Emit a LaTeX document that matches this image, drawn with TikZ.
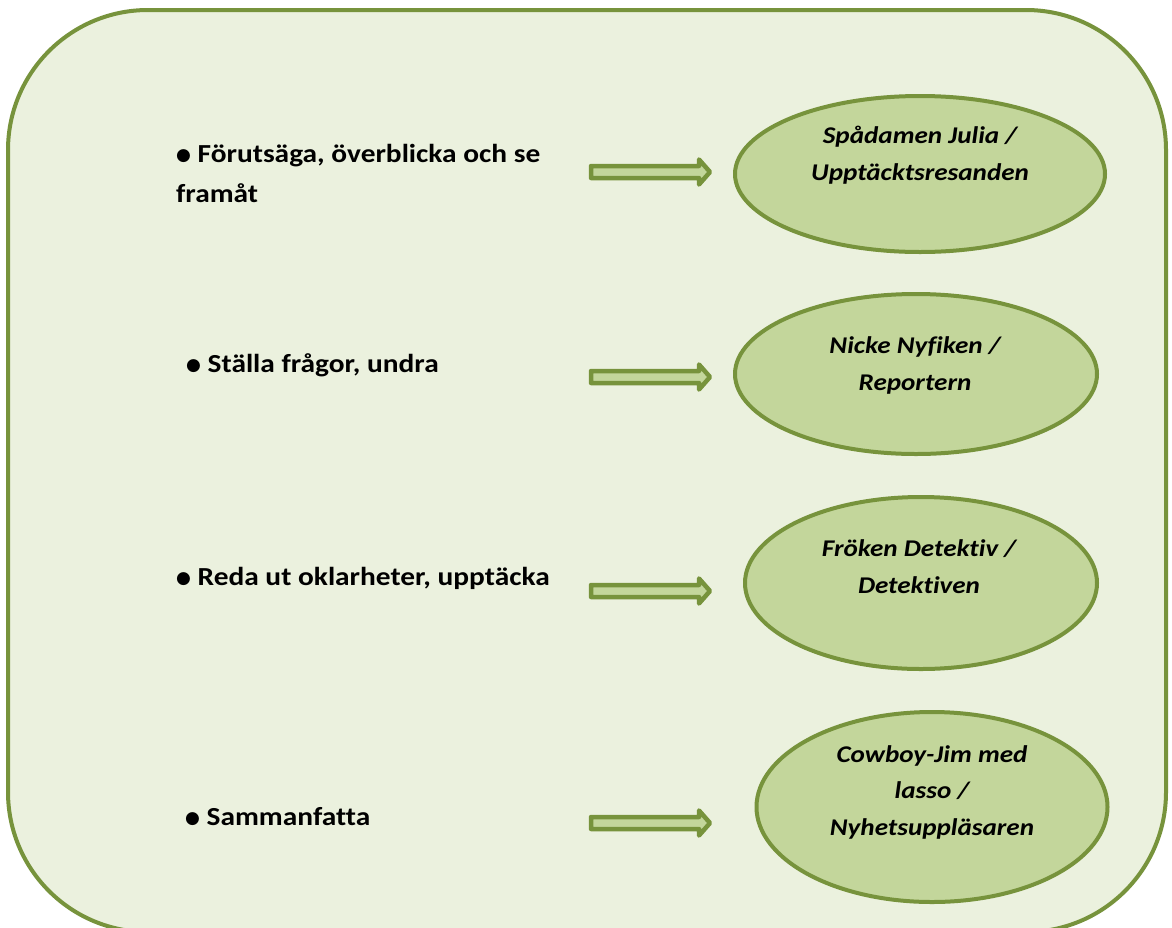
\documentclass[tikz,border=0pt]{standalone}
\usepackage{fontspec}
\setmainfont{Carlito}[FakeStretch=1.13, Ligatures=NoCommon]
\newfontfamily\dejavu{DejaVu Sans}
\usetikzlibrary{shapes.geometric}
\definecolor{bgfill}{HTML}{EBF1DE}
\definecolor{efill}{HTML}{C3D69B}
\definecolor{gline}{HTML}{77933C}
\newcommand\bul{\raisebox{1.5pt}{\dejavu\fontsize{17}{17}\selectfont ●}}
\tikzset{
  frame/.style={draw=gline, fill=bgfill, line width=4pt, rounded corners=140pt},
  oval/.style={ellipse, draw=gline, fill=efill, line width=4pt, inner sep=0pt},
  lefttext/.style={anchor=base west, font=\bfseries\fontsize{26}{40}\selectfont, align=left, inner sep=0pt},
  ovaltext/.style={anchor=base, font=\bfseries\itshape\fontsize{24}{36.5}\selectfont, align=center, inner sep=0pt},
  blockarrow/.style={draw=gline, fill=efill, line width=4.5pt, line join=round}
}
\newcommand\blkarrow[2]{%
  \coordinate (#1) at (591,#2);
  \draw[blockarrow] (#1) ++(0,-6) -- ++(108,0) -- ++(0,-6.5) -- ++(11,12.5)
    -- ++(-11,12.5) -- ++(0,-6.5) -- ++(-108,0) -- cycle;
}
\begin{document}
\begin{tikzpicture}[x=1pt,y=-1pt]
\useasboundingbox (0,0) rectangle (1172,927);
\clip (0,0) rectangle (1172,927);
\fill[white] (0,0) rectangle (1172,927);
\draw[frame] (8,10) rectangle (1166,932);

% left texts (base = baseline of last line)
\node[lefttext] (t1) at (176,202) {\bul\ Förutsäga, överblicka och se\\framåt};
\node[lefttext] (t2) at (186,372) {\bul\ Ställa frågor, undra};
\node[lefttext] (t3) at (176,585) {\bul\ Reda ut oklarheter, upptäcka};
\node[lefttext] (t4) at (185,825) {\bul\ Sammanfatta};

% ellipses
\node[oval, minimum width=370pt, minimum height=156pt] (e1) at (920,174) {};
\node[oval, minimum width=362pt, minimum height=160pt] (e2) at (916,374) {};
\node[oval, minimum width=352pt, minimum height=172pt] (e3) at (921,583) {};
\node[oval, minimum width=351pt, minimum height=190pt] (e4) at (932,807) {};

\node[ovaltext] (o1) at (920,180) {Spådamen Julia /\\Upptäcktsresanden};
\node[ovaltext] (o2) at (915,390) {Nicke Nyfiken /\\Reportern};
\node[ovaltext] (o3) at (919,593) {Fröken Detektiv /\\Detektiven};
\node[ovaltext] (o4) at (932,835) {Cowboy-Jim med\\lasso /\\Nyhetsuppläsaren};

% arrows
\blkarrow{a1}{172}
\blkarrow{a2}{377}
\blkarrow{a3}{591}
\blkarrow{a4}{823}
\end{tikzpicture}
\end{document}
